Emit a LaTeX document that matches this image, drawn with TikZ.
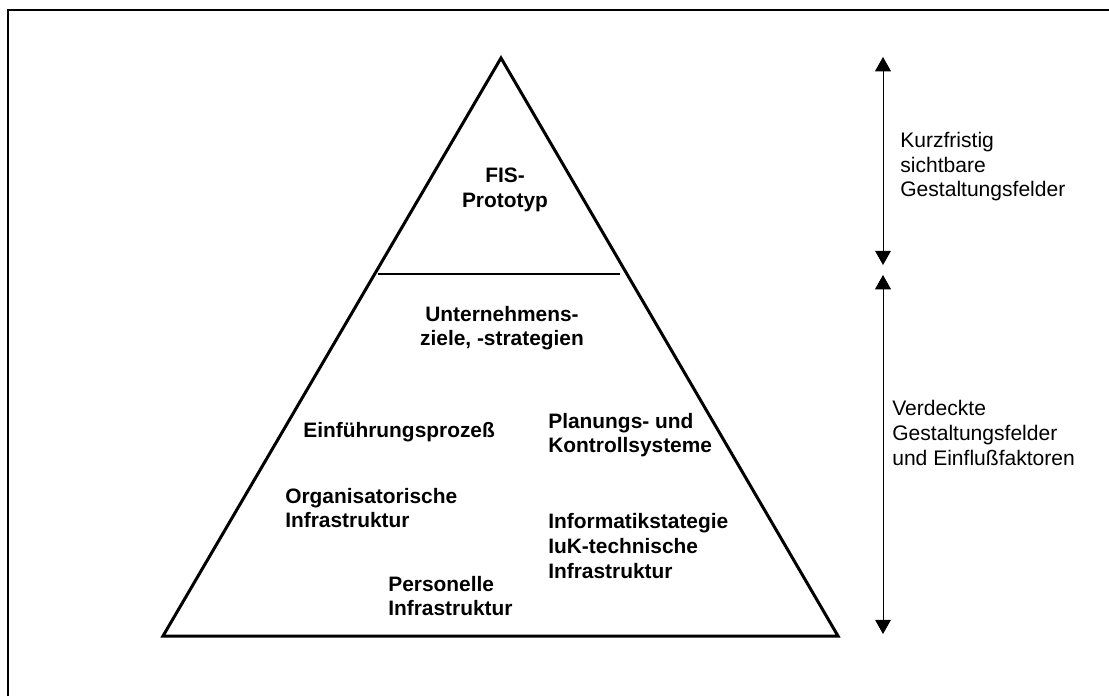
\documentclass[tikz,border=0pt]{standalone}
\usepackage{fontspec}
\setmainfont{Liberation Sans}
\usetikzlibrary{arrows.meta}

\begin{document}
\begin{tikzpicture}[x=0.0222cm,y=-0.0222cm,
	feld/.style={font=\bfseries\fontsize{13.2}{15.5}\selectfont,align=left,inner sep=0pt,anchor=west},
	hinweis/.style={font=\fontsize{13.3}{15.5}\selectfont,align=left,inner sep=0pt,anchor=west},
	pfeil/.style={{Triangle[width=10pt,length=9pt]}-{Triangle[width=10pt,length=9pt]},line width=0.6pt}]
	\useasboundingbox (0,0) rectangle (1109,696);
	%\draw[help lines,step=50] (0,0) grid (1109,696);
	\draw[line width=1.3pt] (8,696) -- (8,10) -- (1109,10);
	% Pyramide
	\coordinate (spitze) at (501,58);
	\coordinate (links) at (163,636);
	\coordinate (rechts) at (838,636);
	\draw[line width=1.9pt,line join=miter] (spitze) -- (rechts) -- (links) -- cycle;
	\coordinate (trennL) at (378,274);
	\coordinate (trennR) at (620,274);
	\draw[line width=0.7pt] (trennL) -- (trennR);
	% Felder
	\node[feld,anchor=center,align=center] (fis) at (505,190) {FIS-\\Prototyp};
	\node[feld,anchor=center,align=center] (ziele) at (502,328) {Unternehmens-\\ziele, -strategien};
	\node[feld] (einf) at (303,432) {Einführungsprozeß};
	\node[feld] (plan) at (548,435) {Planungs- und\\Kontrollsysteme};
	\node[feld] (orga) at (285,508) {Organisatorische\\Infrastruktur};
	\node[feld] (info) at (548,546) {Informatikstategie\\IuK-technische\\Infrastruktur};
	\node[feld] (pers) at (388,596) {Personelle\\Infrastruktur};
	% Pfeile rechts
	\coordinate (oben1) at (883,57);
	\coordinate (unten1) at (883,265);
	\coordinate (oben2) at (883,275);
	\coordinate (unten2) at (883,634);
	\draw[pfeil] (oben1) -- (unten1);
	\draw[pfeil] (oben2) -- (unten2);
	\node[hinweis] (kurz) at (900,167) {Kurzfristig\\sichtbare\\Gestaltungsfelder};
	\node[hinweis] (verd) at (892,433) {Verdeckte\\Gestaltungsfelder\\und Einflußfaktoren};
\end{tikzpicture}
\end{document}
